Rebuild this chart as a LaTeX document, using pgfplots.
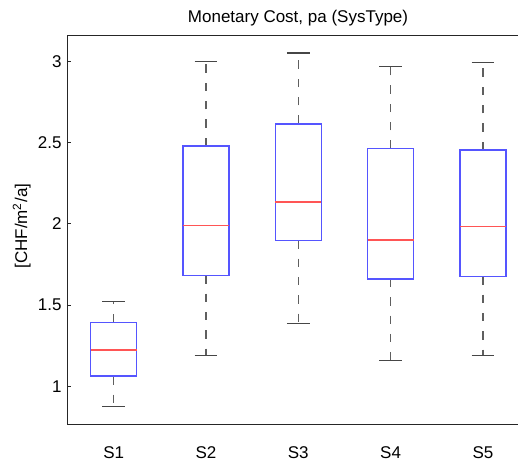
\documentclass[border=0pt]{standalone}
\usepackage{fontspec}
\setmainfont{Liberation Sans}
\usepackage{pgfplots}
\pgfplotsset{compat=1.18}
\usepgfplotslibrary{statistics}

\definecolor{boxblue}{RGB}{85,85,255}
\definecolor{medred}{RGB}{255,85,85}
\definecolor{whiskgray}{RGB}{95,95,95}
\definecolor{capgray}{RGB}{70,70,70}

\begin{document}
\begin{tikzpicture}
\begin{axis}[
  scale only axis,
  width=270.3pt, height=233.4pt,
  xmin=0.5, xmax=5.38,
  ymin=0.766, ymax=3.158,
  axis x line*=box,
  axis y line*=left,
  axis line style={line width=0.85pt, black!85},
  tick align=inside,
  major tick length=2.4pt,
  xtick={1,2,3,4,5},
  xticklabels={S1,S2,S3,S4,S5},
  x tick style={draw=none},
  ytick={1,1.5,2,2.5,3},
  yticklabels={1,1.5,2,2.5,3},
  y tick style={line width=0.6pt, black!85},
  /pgf/number format/assume math mode=true,
  ticklabel style={font=\fontsize{10.2}{12}\selectfont},
  xticklabel style={anchor=base, yshift=-20.4pt},
  title={Monetary Cost, pa (SysType)},
  title style={font=\fontsize{10.2}{12}\selectfont, at={(axis description cs:0.5117,1)}, anchor=base, yshift=1.7pt},
  ylabel={[CHF/m\textsuperscript{2}/a]},
  ylabel style={font=\fontsize{10.2}{12}\selectfont, at={(axis description cs:-0.1017,0.51)}, anchor=center},
  boxplot/draw direction=y,
  boxplot/box extend=0.5,
  boxplot/whisker extend=0.245,
  boxplot/every box/.style={draw=boxblue, line width=0.85pt},
  boxplot/every median/.style={draw=medred, line width=0.85pt},
  boxplot/draw/lower whisker/.code={%
    \draw[whiskgray, line width=0.7pt, dash pattern=on 5pt off 6pt]
      (boxplot cs:\pgfplotsboxplotvalue{lower quartile}) --
      (boxplot cs:\pgfplotsboxplotvalue{lower whisker});
    \draw[capgray, line width=0.7pt]
      (boxplot whisker cs:\pgfplotsboxplotvalue{lower whisker},0) --
      (boxplot whisker cs:\pgfplotsboxplotvalue{lower whisker},1);
  },
  boxplot/draw/upper whisker/.code={%
    \draw[whiskgray, line width=0.7pt, dash pattern=on 5pt off 6pt]
      (boxplot cs:\pgfplotsboxplotvalue{upper quartile}) --
      (boxplot cs:\pgfplotsboxplotvalue{upper whisker});
    \draw[capgray, line width=0.7pt]
      (boxplot whisker cs:\pgfplotsboxplotvalue{upper whisker},0) --
      (boxplot whisker cs:\pgfplotsboxplotvalue{upper whisker},1);
  },
]
% S1
\addplot[black, boxplot prepared={draw position=1,
  lower whisker=0.879, lower quartile=1.063, median=1.223,
  upper quartile=1.394, upper whisker=1.520}] coordinates {};
% S2
\addplot[black, boxplot prepared={draw position=2,
  lower whisker=1.190, lower quartile=1.683, median=1.988,
  upper quartile=2.479, upper whisker=3.000}] coordinates {};
% S3
\addplot[black, boxplot prepared={draw position=3,
  lower whisker=1.385, lower quartile=1.898, median=2.135,
  upper quartile=2.615, upper whisker=3.050}] coordinates {};
% S4
\addplot[black, boxplot prepared={draw position=4,
  lower whisker=1.160, lower quartile=1.661, median=1.900,
  upper quartile=2.462, upper whisker=2.965}] coordinates {};
% S5
\addplot[black, boxplot prepared={draw position=5,
  lower whisker=1.188, lower quartile=1.677, median=1.982,
  upper quartile=2.454, upper whisker=2.990}] coordinates {};
\coordinate (sw) at (rel axis cs:0,0);
\coordinate (ne) at (rel axis cs:1,1);
\end{axis}
\pgfresetboundingbox
\useasboundingbox ([xshift=-40.5pt,yshift=-24pt]sw) rectangle ([yshift=21.3pt]ne);
\end{tikzpicture}
\end{document}
